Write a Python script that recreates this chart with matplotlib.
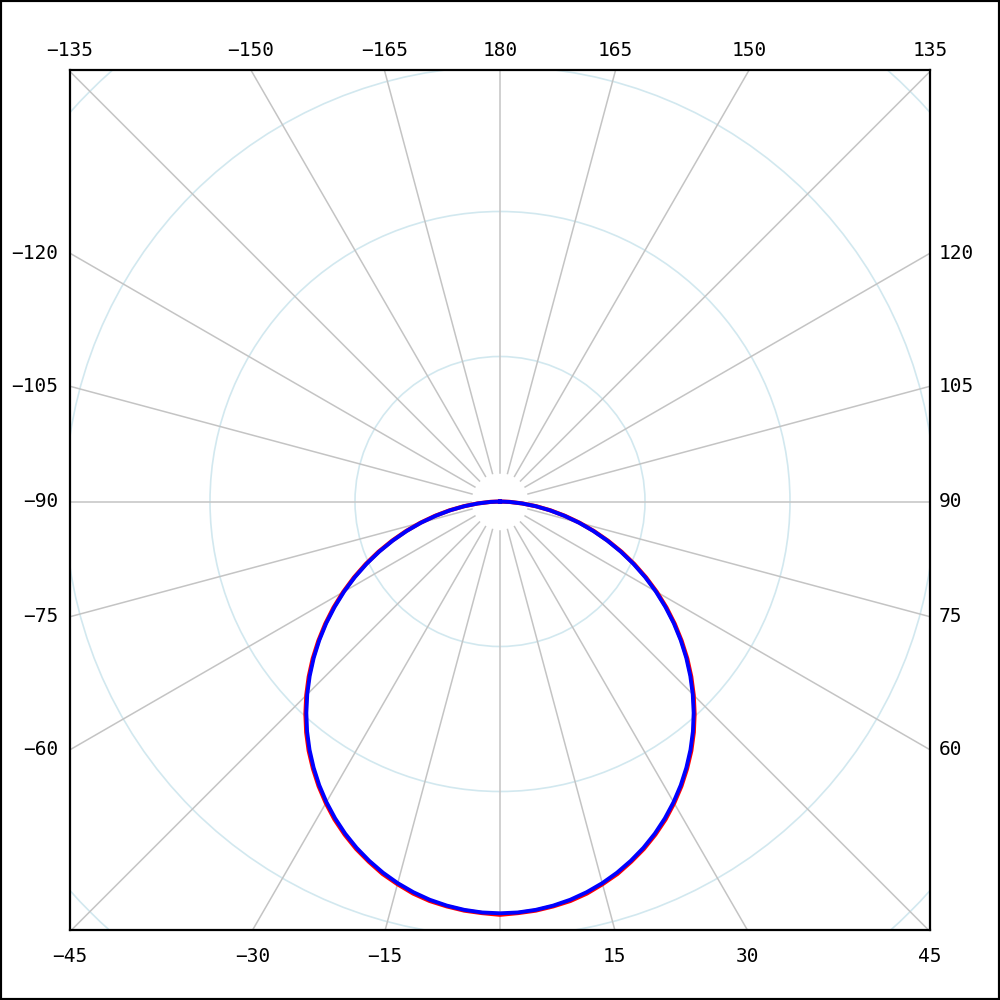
import numpy as np
import matplotlib
matplotlib.use("Agg")
import matplotlib.pyplot as plt
from matplotlib.patches import Circle, Rectangle

# pattern data: angle in degrees (0 = down, positive to the right), radius in ring units
angles = list(np.arange(-90, 90.1, 2.5))
blue_half = [2.840, 2.837, 2.827, 2.811, 2.789, 2.760, 2.725, 2.684, 2.637, 2.585,
             2.527, 2.463, 2.394, 2.320, 2.241, 2.158, 2.070, 1.977, 1.880, 1.780,
             1.677, 1.571, 1.463, 1.352, 1.241, 1.128, 1.014, 0.900, 0.786, 0.674,
             0.563, 0.454, 0.349, 0.248, 0.152, 0.066, 0.000]
red_half = [2.850, 2.841, 2.832, 2.816, 2.797, 2.769, 2.732, 2.693, 2.644, 2.593,
            2.535, 2.472, 2.402, 2.328, 2.249, 2.167, 2.079, 1.986, 1.889, 1.789,
            1.686, 1.579, 1.471, 1.361, 1.249, 1.136, 1.022, 0.908, 0.793, 0.680,
            0.569, 0.460, 0.354, 0.252, 0.156, 0.068, 0.000]
blue_r = blue_half[::-1] + blue_half[1:]
red_r = red_half[::-1] + red_half[1:]

rings = [1, 2, 3, 4]
spoke_angles = list(range(-180, 180, 15))
px_per_unit = 145.0
half = 430 / px_per_unit  # frame half-width in ring units
y_top = (501.5 - 70) / px_per_unit
y_bot = (930 - 501.5) / px_per_unit


def to_xy(theta_deg, r):
    t = np.radians(np.asarray(theta_deg, dtype=float))
    r = np.asarray(r, dtype=float)
    return r * np.sin(t), -r * np.cos(t)


fig = plt.figure(figsize=(10, 10), dpi=100)
fig.patches.append(Rectangle((0, 0), 1, 1, transform=fig.transFigure,
                             fill=False, edgecolor="black", linewidth=3))
ax = fig.add_axes([0.07, 0.07, 0.86, 0.86])
ax.set_xlim(-half, half)
ax.set_ylim(-y_bot, y_top)
ax.set_aspect("equal")
ax.set_xticks([])
ax.set_yticks([])
for s in ax.spines.values():
    s.set_linewidth(1.6)
    s.set_zorder(10)

for rr in rings:
    ax.add_patch(Circle((0, 0), rr, fill=False, edgecolor="#d2e8ef", linewidth=1.2))

for a in spoke_angles:
    x, y = to_xy([a, a], [0.2, 6])
    ax.plot(x, y, color="#c4c4c4", linewidth=1.1)

    if a == 0:
        continue
    # label where the spoke meets the frame
    t = np.radians(a)
    sx, sy = np.sin(t), -np.cos(t)
    if abs(sy) >= abs(sx) - 1e-9:
        edge = y_top if sy > 0 else y_bot
        px, py = edge * sx / abs(sy), edge * np.sign(sy)
        if abs(abs(sx) - abs(sy)) < 1e-9:
            px = half * np.sign(sx)
        off = (0, 20) if sy > 0 else (0, -27)
        ha = "center"
    else:
        px, py = half * np.sign(sx), half * sy / abs(sx)
        off = (-12, 0) if sx < 0 else (9, 0)
        ha = "right" if sx < 0 else "left"
    lab = str(a if a != -180 else 180).replace("-", "\u2212")
    ax.annotate(lab, (px, py), xytext=off, textcoords="offset pixels",
                ha=ha, va="center", fontsize=14, family="DejaVu Sans Mono",
                annotation_clip=False)

rx, ry = to_xy(angles, red_r)
bx, by = to_xy(angles, blue_r)
ax.plot(rx, ry, color="#ff0000", linewidth=3.0, zorder=5)
ax.plot(bx, by, color="#0000ff", linewidth=2.8, zorder=6)

fig.savefig("out.png", dpi=100)
